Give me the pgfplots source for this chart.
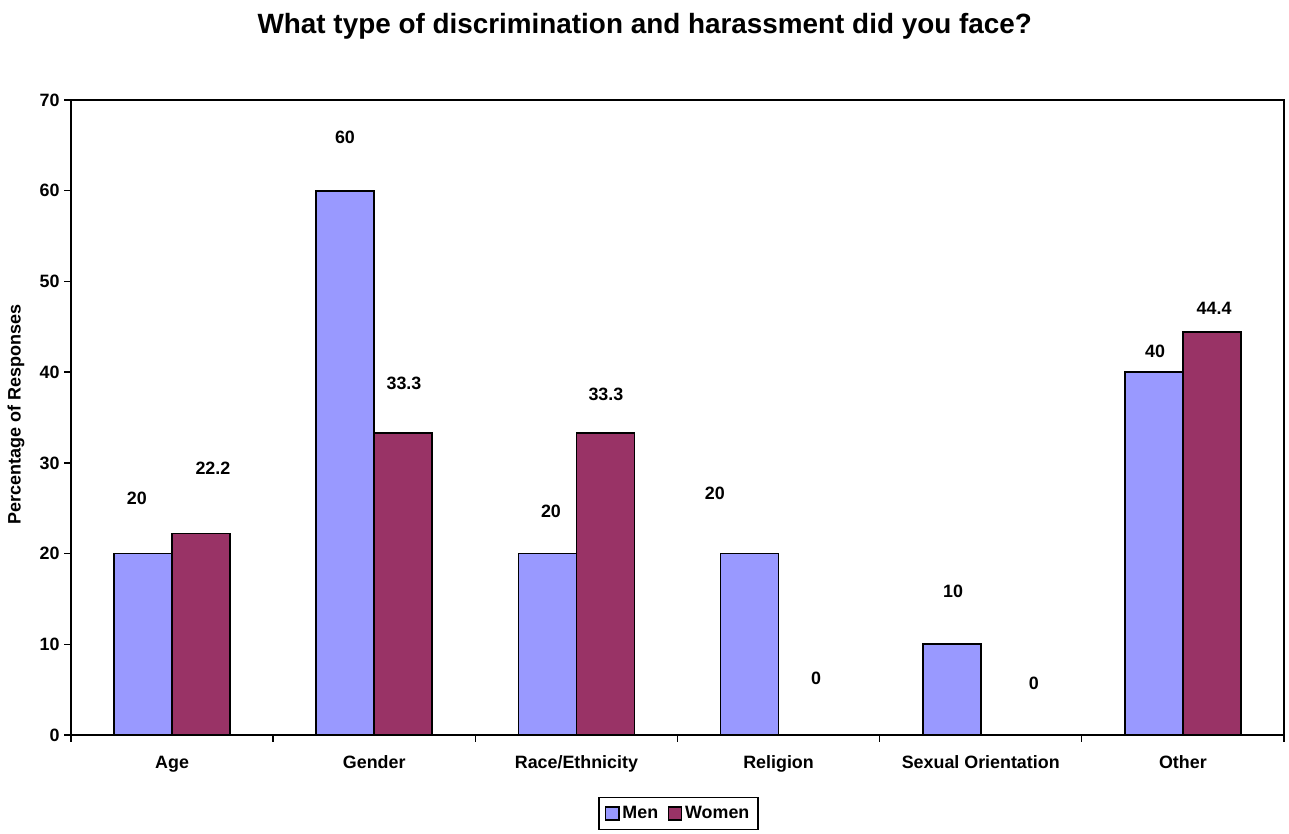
\documentclass[border=0pt]{standalone}
\usepackage{pgfplots}
\pgfplotsset{compat=1.18}
\usepackage{pgfplotstable}
\usepackage{fontspec}
\setmainfont{Liberation Sans}
\definecolor{menc}{HTML}{9999FF}
\definecolor{womenc}{HTML}{993366}
\pgfplotstableread{
x men women
0 20 22.2
1 60 33.3
2 20 33.3
3 20 0
4 10 0
5 40 44.4
}\datatable
\pgfplotstableread{
lx ly lab
-0.174 26.1 20
0.855 65.9 60
1.874 24.7 20
2.685 26.6 20
3.863 15.8 10
4.862 42.3 40
0.202 29.4 22.2
1.147 38.8 33.3
2.146 37.5 33.3
3.185 6.3 0
4.263 5.7 0
5.154 47.0 44.4
}\labeltable
\begin{document}
\begin{tikzpicture}
\path[use as bounding box] (-53.25pt,-73.5pt) rectangle (913.5pt,551.25pt);
\begin{axis}[
  at={(0,0)}, anchor=south west,
  scale only axis, width=909.75pt, height=476.25pt,
  ybar=0pt, bar width=43.5pt,
  xmin=-0.5, xmax=5.5, ymin=0, ymax=70,
  xtick={0,...,5},
  xticklabels={Age,Gender,Race/Ethnicity,Religion,Sexual Orientation,Other},
  minor xtick={-0.5,0.5,...,5.5},
  ytick={0,10,...,70},
  major x tick style={draw=none},
  tick align=outside, tick pos=left,
  major tick length=5pt, minor tick length=5pt,
  every tick/.style={black, line width=1pt},
  axis line style={black, line width=1pt},
  /pgf/number format/assume math mode=true,
  ticklabel style={font=\bfseries\fontsize{13.4}{15}\selectfont},
  xticklabel style={yshift=-7pt},
  title={What type of discrimination and harassment did you face?},
  title style={font=\bfseries\fontsize{20.9}{24}\selectfont, at={(axis description cs:0.473,1)}, anchor=center, yshift=49.5pt},
  ylabel={Percentage of Responses},
  ylabel style={font=\bfseries\fontsize{13.5}{15}\selectfont, at={(axis description cs:-0.04534,0.5055)}, anchor=center},
  legend style={at={(axis description cs:0.5008,0)}, anchor=north, yshift=-46.5pt, draw=black, line width=1pt, font=\bfseries\fontsize{13.4}{15}\selectfont, legend columns=2, inner xsep=4.5pt, inner ysep=4.5pt, /tikz/every even column/.append style={column sep=5pt}},
  legend image code/.code={\draw[#1, line width=1.2pt] (0pt,-5pt) rectangle (10pt,5pt);},
]
\addplot[fill=menc, draw=black, line width=1.3pt] table[x=x, y=men] {\datatable};
\addplot[fill=womenc, draw=black, line width=1.3pt] table[x=x, y=women] {\datatable};
\legend{Men,Women}
\end{axis}
\begin{axis}[
  at={(0,0)}, anchor=south west,
  scale only axis, width=909.75pt, height=476.25pt,
  xmin=-0.5, xmax=5.5, ymin=0, ymax=70,
  hide axis,
]
\addplot[draw=none, mark=none, nodes near coords, point meta=explicit symbolic,
  nodes near coords style={font=\bfseries\fontsize{13.4}{15}\selectfont, black, anchor=center}]
  table[x=lx, y=ly, meta=lab] {\labeltable};
\end{axis}
\end{tikzpicture}
\end{document}
